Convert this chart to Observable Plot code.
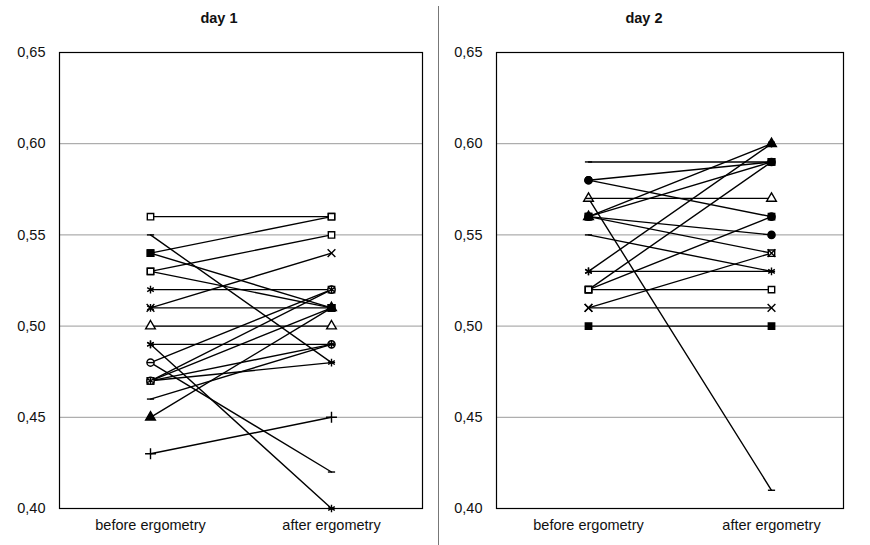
<!DOCTYPE html>
<html>
<head>
<meta charset="utf-8">
<script src="https://cdn.jsdelivr.net/npm/d3@7"></script>
<script src="https://cdn.jsdelivr.net/npm/@observablehq/plot@0.6"></script>
<style>
  html, body { margin: 0; padding: 0; background: #fff; }
  body { width: 870px; height: 545px; overflow: hidden; font-family: "Liberation Sans", Arial, sans-serif; }
  #wrap { display: flex; position: relative; width: 870px; height: 545px; }
  .panel { position: relative; }
  .title { height: 34px; line-height: 36px; text-align: center; font-weight: bold; font-size: 14.5px; color: #111; }
  #sep { position: absolute; left: 438px; top: 6px; width: 1px; height: 539px; background: #777; }
</style>
</head>
<body>
<div id="wrap">
  <div class="panel" id="p1" style="width:438px"><div class="title">day 1</div></div>
  <div class="panel" id="p2" style="width:432px"><div class="title" style="padding-right:20px">day 2</div></div>
  <div id="sep"></div>
</div>
<script>
// ---- data ----
const phases = ["before ergometry", "after ergometry"];
const yTicks = [0.40, 0.45, 0.50, 0.55, 0.60, 0.65];

const day1Before = [0.56, 0.55, 0.54, 0.54, 0.53, 0.53, 0.52, 0.51, 0.51, 0.50, 0.49, 0.49, 0.48, 0.48, 0.47, 0.47, 0.47, 0.47, 0.46, 0.45, 0.43];
const day1After  = [0.56, 0.48, 0.56, 0.51, 0.55, 0.51, 0.52, 0.54, 0.51, 0.50, 0.49, 0.40, 0.52, 0.42, 0.52, 0.51, 0.49, 0.48, 0.49, 0.51, 0.45];
const day1Marker = ["square-open", "dash", "square", "square", "square-open", "square-open", "asterisk", "times", "asterisk", "triangle-open", "asterisk", "asterisk", "circle-open", "dash", "square-open", "square", "circle-open", "asterisk", "dash", "triangle", "plus"];

const day2Before = [0.59, 0.58, 0.58, 0.57, 0.57, 0.56, 0.56, 0.56, 0.56, 0.55, 0.53, 0.53, 0.52, 0.52, 0.52, 0.51, 0.51, 0.50];
const day2After  = [0.59, 0.59, 0.56, 0.57, 0.41, 0.60, 0.59, 0.55, 0.54, 0.53, 0.60, 0.53, 0.59, 0.56, 0.52, 0.54, 0.51, 0.50];
const day2Marker = ["dash", "circle", "circle", "triangle-open", "dash", "triangle", "square-open", "circle", "square-open", "dash", "asterisk", "asterisk", "square-open", "square", "square-open", "times", "times", "square"];

// ---- rendering ----
const dashSymbol = {
  draw(ctx, size) {
    const r = Math.sqrt(size / Math.PI);
    ctx.moveTo(-r, 0);
    ctx.lineTo(r, 0);
  }
};
const markerKinds = {
  "square":        {symbol: "square",   fill: "black"},
  "square-open":   {symbol: "square",   fill: "white"},
  "circle":        {symbol: "circle",   fill: "black"},
  "circle-open":   {symbol: "circle",   fill: "white"},
  "triangle":      {symbol: "triangle", fill: "black"},
  "triangle-open": {symbol: "triangle", fill: "white"},
  "asterisk":      {symbol: "asterisk", fill: "none"},
  "times":         {symbol: "times",    fill: "none"},
  "plus":          {symbol: "plus",     fill: "none"},
  "dash":          {symbol: dashSymbol, fill: "none"}
};

function panel(before, after, markers, opts) {
  const pts = before.flatMap((b, i) => [
    {id: i, phase: phases[0], v: b, m: markers[i]},
    {id: i, phase: phases[1], v: after[i], m: markers[i]}
  ]);
  const dotMarks = Object.entries(markerKinds).map(([k, s]) =>
    Plot.dot(pts.filter(d => d.m === k), {
      x: "phase", y: "v", symbol: () => s.symbol, r: 3.6,
      fill: s.fill, stroke: "black", strokeWidth: 1.4
    })
  );
  return Plot.plot({
    width: opts.width,
    height: 511,
    marginTop: 18,
    marginBottom: 37,
    marginLeft: opts.marginLeft,
    marginRight: opts.marginRight,
    style: {fontFamily: "'Liberation Sans', Arial, sans-serif", fontSize: "14.5px", color: "#111", background: "white"},
    symbol: {type: "identity"},
    x: {type: "point", domain: phases, padding: opts.padding, align: opts.align, label: null, tickSize: 0, tickPadding: 11},
    y: {domain: [0.40, 0.65], ticks: yTicks, tickFormat: d => d.toFixed(2).replace(".", ","), tickSize: 0, tickPadding: 14, label: null},
    marks: [
      Plot.ruleY(yTicks.slice(1, -1), {stroke: "#9a9a9a", strokeWidth: 1}),
      Plot.line(pts, {x: "phase", y: "v", z: "id", stroke: "black", strokeWidth: 1.4}),
      ...dotMarks,
      Plot.frame({stroke: "black", strokeWidth: 1.2})
    ]
  });
}

document.getElementById("p1").appendChild(
  panel(day1Before, day1After, day1Marker, {width: 438, marginLeft: 59, marginRight: 16, padding: 0.5, align: 0.5})
);
document.getElementById("p2").appendChild(
  panel(day2Before, day2After, day2Marker, {width: 432, marginLeft: 58, marginRight: 27, padding: 0.443, align: 0.558})
);
</script>
</body>
</html>
